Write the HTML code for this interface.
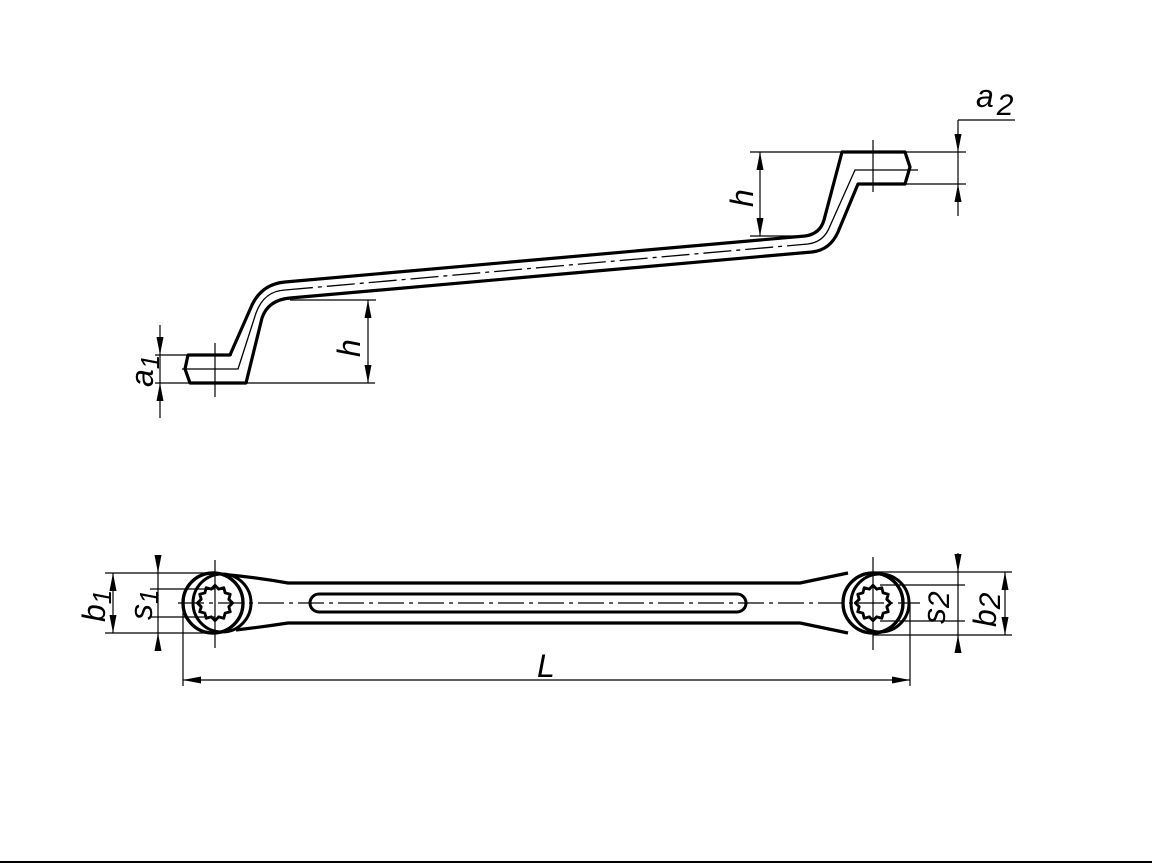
<!DOCTYPE html>
<html><head><style>
html,body{margin:0;padding:0;background:#fff;width:1152px;height:864px;overflow:hidden}
svg text{font-family:"Liberation Sans",sans-serif;font-style:italic;fill:#000}
</style></head><body>
<svg width="1152" height="864" viewBox="0 0 1152 864" xmlns="http://www.w3.org/2000/svg">
<defs>
<marker id="a" viewBox="0 0 18 8" refX="18" refY="4" markerWidth="18" markerHeight="8" markerUnits="userSpaceOnUse" orient="auto-start-reverse"><path d="M0,0.5 L18,4 L0,7.5 Z" fill="#000"/></marker>
</defs>
<g fill="none" stroke="#000" stroke-linejoin="round">
<path stroke-width="3.2" d="M188,355 L230,355 L252,305 Q262,284 285,282 L805,236 Q820,234 824,220 L842,152 L905,152 L910,167 L905,184 L858,184 L838,232 Q830,250 812,252 L290,298 Q268,300 262,318 L246,383 L190,383 L185,369 Z"/>
<path stroke-width="1.3" d="M182,369 L238,369 L256,313 Q264,291 285,290"/>
<path stroke-width="1.3" d="M808,244 Q824,242 830,226 L855,170 L918,170"/>
<path stroke-width="1.3" stroke-dasharray="28,5,4,5" d="M285,290 L808,244"/>
<path stroke-width="1.2" d="M215,343 V397 M873,140 V192"/>
<path stroke-width="1.2" d="M155,355 H232 M155,383 H375 M290,300 H376 M750,152 H842 M750,236 H810 M905,152 H966 M905,184 H966 M958,120 H1015"/>
<path stroke-width="1.2" d="M160,325 V355" marker-end="url(#a)"/>
<path stroke-width="1.2" d="M160,418 V383" marker-end="url(#a)"/>
<path stroke-width="1.2" d="M160,355 V383"/>
<path stroke-width="1.2" d="M368,300 V383" marker-start="url(#a)" marker-end="url(#a)"/>
<path stroke-width="1.2" d="M760,152 V236" marker-start="url(#a)" marker-end="url(#a)"/>
<path stroke-width="1.2" d="M958,120 V152" marker-end="url(#a)"/>
<path stroke-width="1.2" d="M958,216 V184" marker-end="url(#a)"/>
<path stroke-width="1.2" d="M958,152 V184"/>

<path stroke-width="3.2" d="M230,575 Q260,578 288,583 L800,583 L848,573"/>
<path stroke-width="3.2" d="M236,630 Q262,627 288,623 L800,623 L848,633"/>
<rect x="310" y="594" width="436" height="18" rx="9" stroke-width="3"/>
<circle cx="213" cy="603" r="30" stroke-width="3.2" fill="#fff"/>
<circle cx="222" cy="603" r="29" stroke-width="3"/>
<circle cx="213" cy="603" r="30" stroke-width="3.2"/>
<circle cx="873" cy="603" r="30" stroke-width="3.2" fill="#fff"/>
<circle cx="880" cy="603" r="29" stroke-width="3"/>
<circle cx="873" cy="603" r="30" stroke-width="3.2"/>
<polygon stroke-width="2.6" transform="translate(215,603) scale(1.1)" points="16,0 12.56,3.37 13.86,8 9.19,9.19 8,13.86 3.37,12.56 0,16 -3.37,12.56 -8,13.86 -9.19,9.19 -13.86,8 -12.56,3.37 -16,0 -12.56,-3.37 -13.86,-8 -9.19,-9.19 -8,-13.86 -3.37,-12.56 0,-16 3.37,-12.56 8,-13.86 9.19,-9.19 13.86,-8 12.56,-3.37"/>
<polygon stroke-width="2.6" transform="translate(873,603) scale(1.1)" points="16,0 12.56,3.37 13.86,8 9.19,9.19 8,13.86 3.37,12.56 0,16 -3.37,12.56 -8,13.86 -9.19,9.19 -13.86,8 -12.56,3.37 -16,0 -12.56,-3.37 -13.86,-8 -9.19,-9.19 -8,-13.86 -3.37,-12.56 0,-16 3.37,-12.56 8,-13.86 9.19,-9.19 13.86,-8 12.56,-3.37"/>
<path stroke-width="1.2" stroke-dasharray="26,5,4,5" d="M178,603 H920"/>
<path stroke-width="1.2" d="M215,560 V648 M873,557 V650"/>
<path stroke-width="1.2" d="M105,573 H215 M105,633 H215 M150,589 H215 M150,617 H215 M873,572 H1012 M873,635 H1012 M880,585 H965 M880,621 H965 M183,603 V686 M910,603 V686"/>
<path stroke-width="1.2" d="M113,573 V633" marker-start="url(#a)" marker-end="url(#a)"/>
<path stroke-width="1.2" d="M158,556 V573" marker-end="url(#a)"/>
<path stroke-width="1.2" d="M158,650 V633" marker-end="url(#a)"/>
<path stroke-width="1.2" d="M158,573 V633"/>
<path stroke-width="1.2" d="M958,553 V572" marker-end="url(#a)"/>
<path stroke-width="1.2" d="M958,653 V635" marker-end="url(#a)"/>
<path stroke-width="1.2" d="M958,572 V635"/>
<path stroke-width="1.2" d="M1005,572 V635" marker-start="url(#a)" marker-end="url(#a)"/>
<path stroke-width="1.2" d="M183,680 H910" marker-start="url(#a)" marker-end="url(#a)"/>
<path stroke-width="2" d="M0,862 H1152"/>
</g>
<g font-size="32">
<text transform="translate(153,387) rotate(-90)">a<tspan font-size="26" dy="6">1</tspan></text>
<text transform="translate(360,357) rotate(-90)">h</text>
<text transform="translate(753,207) rotate(-90)">h</text>
<text x="976" y="107">a<tspan font-size="30" dx="3" dy="8">2</tspan></text>
<text transform="translate(105,622) rotate(-90)">b<tspan font-size="26" dy="6">1</tspan></text>
<text transform="translate(152,620) rotate(-90)">s<tspan font-size="26" dy="6">1</tspan></text>
<text transform="translate(945,624) rotate(-90)">s<tspan font-size="30" dy="4">2</tspan></text>
<text transform="translate(996,627) rotate(-90)">b<tspan font-size="30" dy="4">2</tspan></text>
<text x="537" y="677">L</text>
</g>
</svg>
</body></html>
